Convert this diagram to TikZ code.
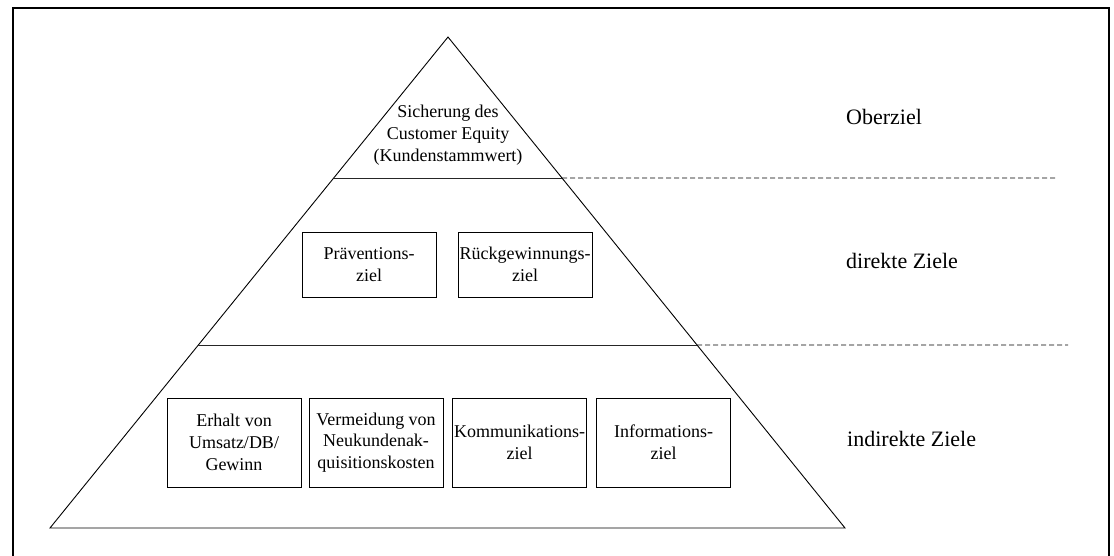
\documentclass[tikz,border=0pt]{standalone}
\usepackage{fontspec}
\setmainfont{Liberation Serif}
\usetikzlibrary{calc}
\begin{document}
\begin{tikzpicture}[x=1pt,y=-1pt,
  goal/.style={draw, line width=0.9pt, inner sep=0pt, align=center,
               font=\fontsize{18}{21.7}\selectfont},
  upperbox/.style={goal, minimum width=134pt, minimum height=65pt},
  lowerbox/.style={goal, minimum width=134pt, minimum height=89pt},
  tiertext/.style={inner sep=0pt, align=center, font=\fontsize{18}{21.7}\selectfont},
  levellabel/.style={inner sep=0pt, anchor=base west, font=\fontsize{22}{26}\selectfont},
  divider/.style={line width=1pt, draw=black!85},
  guide/.style={line width=0.9pt, dash pattern=on 5pt off 3pt, draw=black}]
\useasboundingbox (0,0) rectangle (1114,555);

% frame
\draw[line width=2pt] (13,565) -- (13,8) -- (1109,8) -- (1109,565);

% pyramid
\coordinate (apex) at (448,37);
\coordinate (bl) at (50,528);
\coordinate (br) at (845,528);
\draw[line width=0.9pt, line join=miter] (apex) -- (br) -- (bl) -- cycle;

% tier dividers
\coordinate (d1l) at ($(apex)!0.2872!(bl)$);
\coordinate (d1r) at ($(apex)!0.2872!(br)$);
\coordinate (d2l) at ($(apex)!0.6273!(bl)$);
\coordinate (d2r) at ($(apex)!0.6273!(br)$);
\coordinate (g1) at (1057,178);
\coordinate (g2) at (1068,345);
\draw[divider] (d1l) -- (d1r);
\draw[divider] (d2l) -- (d2r);
\draw[guide] (d1r) -- (g1);
\draw[guide] (d2r) -- (g2);

% top tier
\node[tiertext] (equity) at (448,135) {Sicherung des\\Customer Equity\\(Kundenstammwert)};

% middle tier
\node[upperbox] (praev) at (369,264.5) {Präventions-\\ziel};
\node[upperbox] (rueck) at (525,264.5) {Rückgewinnungs-\\ziel};

% bottom tier
\node[lowerbox] (erhalt) at (234,442.5) {Erhalt von\\Umsatz/DB/\\Gewinn};
\node[lowerbox] (vermeid) at (376,442.5) {Vermeidung von\\Neukundenak-\\quisitionskosten};
\node[lowerbox] (komm) at (519.5,442.5) {Kommunikations-\\ziel};
\node[lowerbox] (info) at (663.5,442.5) {Informations-\\ziel};

% level labels
\node[levellabel] (ober) at (846,124) {Oberziel};
\node[levellabel] (direkt) at (846,268) {direkte Ziele};
\node[levellabel] (indirekt) at (847,446) {indirekte Ziele};
\end{tikzpicture}
\end{document}
